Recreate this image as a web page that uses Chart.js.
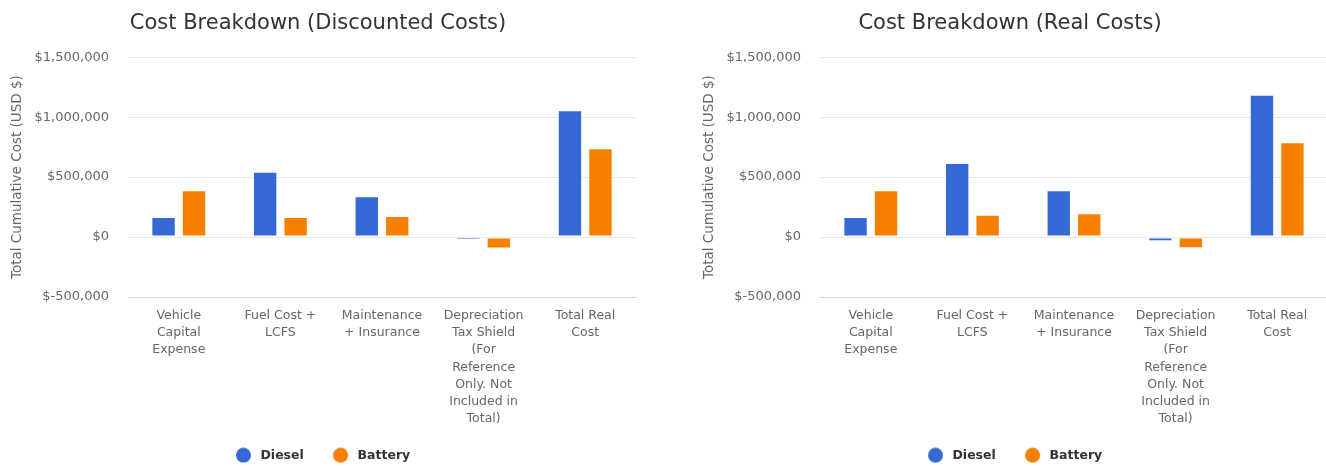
<!DOCTYPE html>
<html>
<head>
<meta charset="utf-8">
<title>Cost Breakdown</title>
<script src="https://cdn.jsdelivr.net/npm/chart.js@4.4.1/dist/chart.umd.min.js"></script>
<style>
  body { margin: 0; width: 1326px; height: 466px; overflow: hidden; background: #fff; position: relative; }
  .box { position: absolute; top: 0; }
</style>
</head>
<body>
<div class="box" style="left:0"><canvas id="discounted" width="640" height="466"></canvas></div>
<div class="box" style="left:692px"><canvas id="real" width="640" height="466"></canvas></div>
<script>
// categories (wrapped the same way as the original axis labels)
const categories = [
    ['Vehicle', 'Capital', 'Expense'],
    ['Fuel Cost +', 'LCFS'],
    ['Maintenance', '+ Insurance'],
    ['Depreciation', 'Tax Shield', '(For', 'Reference', 'Only. Not', 'Included in', 'Total)'],
    ['Total Real', 'Cost']
];
const seriesNames = ['Diesel', 'Battery'];

const discountedDiesel = [168000, 545000, 341000, -25000, 1057000];
const discountedBattery = [391000, 168000, 176000, -95000, 741000];
const realDiesel = [168000, 617000, 391000, -34000, 1187000];
const realBattery = [391000, 187000, 198000, -94000, 790000];

const yTicks = [-500000, 0, 500000, 1000000, 1500000];

const colors = ['#3569d6', '#f77f00'];

Chart.defaults.font.family = '"DejaVu Sans", sans-serif';
Chart.defaults.color = '#666666';

// legend dot drawn a bit left of its box so the text sits further away
function makeDot(color) {
    const c = document.createElement('canvas');
    c.width = 24;
    c.height = 16;
    const g = c.getContext('2d');
    g.fillStyle = color;
    g.beginPath();
    g.arc(7.5, 8, 7.5, 0, Math.PI * 2);
    g.fill();
    return c;
}
const dots = colors.map(makeDot);

// the x labels need a tall box, so the legend is moved back up into place
const shiftLegend = {
    id: 'shiftLegend',
    afterLayout(chart) {
        const lg = chart.legend;
        lg.left += 8;
        lg.right += 8;
        lg.top -= 18;
        lg.bottom -= 18;
    }
};

function money(v) {
    return '$' + v.toLocaleString('en-US');
}

function createBarChart(id, title, diesel, battery) {
    const ctx = document.getElementById(id).getContext('2d');
    return new Chart(ctx, {
        type: 'bar',
        data: {
            labels: categories,
            datasets: [
                { label: seriesNames[0], data: diesel, backgroundColor: colors[0] },
                { label: seriesNames[1], data: battery, backgroundColor: colors[1] }
            ]
        },
        options: {
            responsive: false,
            animation: false,
            devicePixelRatio: 1,
            layout: { padding: { left: 0, right: 4, top: 0, bottom: -23.5 } },
            datasets: {
                bar: {
                    categoryPercentage: 0.6,
                    barPercentage: 0.8,
                    borderColor: '#ffffff',
                    borderWidth: 1,
                    borderSkipped: false
                }
            },
            plugins: {
                title: {
                    display: true,
                    text: title,
                    color: '#333333',
                    font: { size: 21, weight: 'normal', lineHeight: 1.2 },
                    padding: { top: 11, bottom: 21 }
                },
                legend: {
                    position: 'bottom',
                    labels: {
                        usePointStyle: true,
                        boxHeight: 10.6,
                        padding: 35,
                        color: '#333333',
                        font: { size: 12.5, weight: 'bold' },
                        generateLabels: chart =>
                            Chart.defaults.plugins.legend.labels.generateLabels(chart)
                                .map((item, i) => ({ ...item, pointStyle: dots[i] }))
                    }
                },
                tooltip: { enabled: false }
            },
            scales: {
                x: {
                    grid: { display: false, drawTicks: false },
                    border: { display: false },
                    ticks: {
                        autoSkip: false,
                        maxRotation: 0,
                        padding: 10,
                        color: '#666666',
                        font: { size: 12.5, lineHeight: 1.38 }
                    },
                    afterFit: scale => { scale.height = 135; }
                },
                y: {
                    min: yTicks[0],
                    max: yTicks[yTicks.length - 1],
                    afterBuildTicks: scale => { scale.ticks = yTicks.map(v => ({ value: v })); },
                    grid: {
                        drawTicks: false,
                        color: c => (c.tick && c.tick.value === yTicks[0]) ? '#ccd6eb' : '#e6e6e6'
                    },
                    border: { display: false },
                    ticks: {
                        padding: 19,
                        color: '#666666',
                        font: { size: 13 },
                        callback: v => money(v)
                    },
                    title: {
                        display: true,
                        text: 'Total Cumulative Cost (USD $)',
                        color: '#666666',
                        font: { size: 13.5 },
                        padding: { top: 9, bottom: 0 }
                    },
                    afterFit: scale => { scale.width = 128; }
                }
            }
        },
        plugins: [shiftLegend]
    });
}

createBarChart('discounted', 'Cost Breakdown (Discounted Costs)', discountedDiesel, discountedBattery);
createBarChart('real', 'Cost Breakdown (Real Costs)', realDiesel, realBattery);
</script>
</body>
</html>
